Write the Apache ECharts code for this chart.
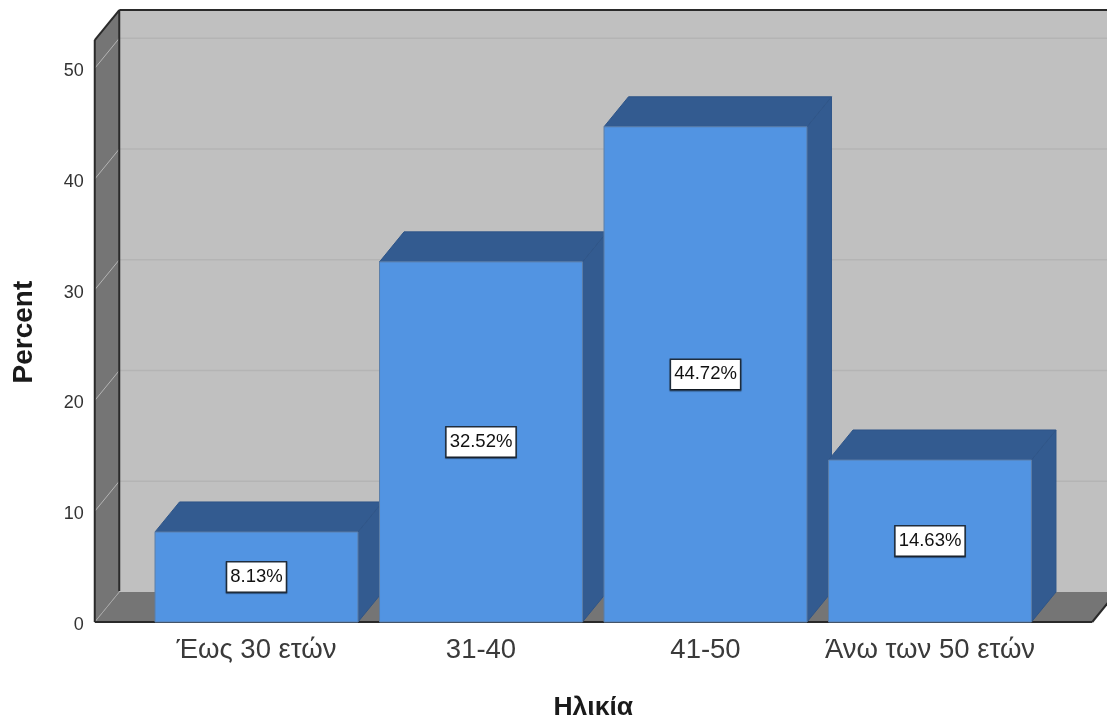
<!DOCTYPE html>
<html><head><meta charset="utf-8">
<style>html,body{margin:0;padding:0;background:#fff}#c{width:1107px;height:718px}</style>
<script src="https://cdn.jsdelivr.net/npm/echarts@6/dist/echarts.min.js"></script>
</head><body><div id="c"></div>
<script>
const categories = ['Έως 30 ετών', '31-40', '41-50', 'Άνω των 50 ετών'];
const percents = [8.13, 32.52, 44.72, 14.63];
const gridTicks = [10, 20, 30, 40, 50];
const wallTop = 52.55;

const FONT = '"Liberation Sans", Arial, sans-serif';
const DX = 24.5, DY = -30;
const WALL_LEFT_GAP = 49.5, WALL_RIGHT_GAP = 50;

const chart = echarts.init(document.getElementById('c'), null, {renderer: 'canvas'});

function poly(points, fill, stroke, lw) {
  return {type: 'polygon', shape: {points}, style: {fill, stroke: stroke || fill, lineWidth: lw === undefined ? 1 : lw}};
}
function line(a, b, stroke, lw) {
  return {type: 'line', shape: {x1: a[0], y1: a[1], x2: b[0], y2: b[1]}, style: {stroke, lineWidth: lw, fill: null}};
}

function renderWalls(params, api) {
  const band = api.size([1, 0])[0];
  const first = api.coord([0, 0]);
  const last = api.coord([categories.length - 1, 0]);
  const L = first[0] - band / 2 - WALL_LEFT_GAP;
  const R = last[0] + band / 2 + WALL_RIGHT_GAP;
  const y0 = first[1];
  const yT = api.coord([0, wallTop])[1];
  const kids = [
    poly([[L + DX, yT + DY], [R + DX + 40, yT + DY], [R + DX + 40, y0 + DY], [L + DX, y0 + DY]], '#c0c0c0', 'none', 0),
    poly([[L, yT], [L + DX, yT + DY], [L + DX, y0 + DY], [L, y0]], '#757575', 'none', 0),
    poly([[L, y0], [L + DX, y0 + DY], [R + DX, y0 + DY], [R, y0]], '#757575', 'none', 0)
  ];
  kids.push(line([L, y0], [L + DX, y0 + DY], '#a8a8a8', 1));
  gridTicks.forEach(t => {
    const y = api.coord([0, t])[1];
    kids.push(line([L, y], [L + DX, y + DY], '#b4b4b4', 1));
    kids.push(line([L + DX, y + DY], [R + DX + 40, y + DY], '#b4b4b4', 1.5));
  });
  kids.push(line([L + DX, yT + DY], [R + DX + 40, yT + DY], '#2a2a2a', 2));
  kids.push(line([L + DX, yT + DY], [L + DX, y0 + DY - 1], '#2a2a2a', 2));
  kids.push(line([L, yT], [L + DX, yT + DY], '#2a2a2a', 2));
  kids.push(line([L, yT], [L, y0], '#2a2a2a', 2));
  kids.push(line([L, y0], [R, y0], '#2a2a2a', 2));
  kids.push(line([R, y0], [R + DX, y0 + DY], '#2a2a2a', 2));
  return {type: 'group', children: kids};
}

function renderBar(params, api) {
  const w = api.size([1, 0])[0] * 0.904;
  const c = api.coord([api.value(0), 0]);
  const t = api.coord([api.value(0), api.value(1)]);
  const l = c[0] - w / 2, r = c[0] + w / 2, y0 = c[1], y1 = t[1];
  const dark = '#335b90';
  return {type: 'group', children: [
    poly([[r, y1], [r + DX, y1 + DY], [r + DX, y0 + DY], [r, y0]], dark, '#2f5588', 1),
    poly([[l, y1], [l + DX, y1 + DY], [r + DX, y1 + DY], [r, y1]], dark, '#2f5588', 1),
    {type: 'rect', shape: {x: l, y: y1, width: w, height: y0 - y1},
     style: {fill: '#5294e2', stroke: '#5c7ea8', lineWidth: 1}}
  ]};
}

chart.setOption({
  animation: false,
  backgroundColor: '#fff',
  grid: {left: 144.25, width: 898, top: 68.3, height: 553.7, outerBoundsMode: 'none'},
  xAxis: {
    type: 'category', data: categories,
    axisLine: {show: false}, axisTick: {show: false}, splitLine: {show: false},
    axisLabel: {color: '#3a3a3a', fontFamily: FONT, fontSize: 27.5, margin: 14, interval: 0, hideOverlap: false},
    name: 'Ηλικία', nameLocation: 'middle', nameGap: 72,
    nameTextStyle: {color: '#1a1a1a', fontFamily: FONT, fontSize: 26.5, fontWeight: 'bold'}
  },
  yAxis: {
    type: 'value', min: 0, max: 50, interval: 10, offset: 49.5,
    axisLine: {show: false}, axisTick: {show: false}, splitLine: {show: false},
    axisLabel: {color: '#333', fontFamily: FONT, fontSize: 18, margin: 11, verticalAlign: 'top', lineHeight: 6},
    name: 'Percent', nameLocation: 'middle', nameGap: 56,
    nameTextStyle: {color: '#1a1a1a', fontFamily: FONT, fontSize: 28, fontWeight: 'bold', padding: [0, 0, 0, 26]}
  },
  tooltip: {show: false},
  series: [
    {type: 'custom', name: 'walls', data: [[0, 0]], renderItem: renderWalls, silent: true, z: 1, clip: false},
    {type: 'custom', name: 'Percent', data: percents.map((v, i) => [i, v]), renderItem: renderBar, z: 2, clip: false},
    {type: 'scatter', name: 'labels', symbolSize: 0, z: 3,
     itemStyle: {opacity: 1},
     data: percents.map((v, i) => [i, v / 2, v]),
     label: {show: true, position: 'inside', opacity: 1,
       formatter: p => p.value[2].toFixed(2) + '%',
       color: '#111', fontFamily: FONT, fontSize: 18.5,
       backgroundColor: '#fff', borderColor: '#1f2d3d', borderWidth: 1.5,
       padding: [5, 3, 5, 3],
       shadowColor: 'rgba(0,0,0,0.45)', shadowOffsetY: 1, shadowBlur: 1}}
  ]
});
</script></body></html>
